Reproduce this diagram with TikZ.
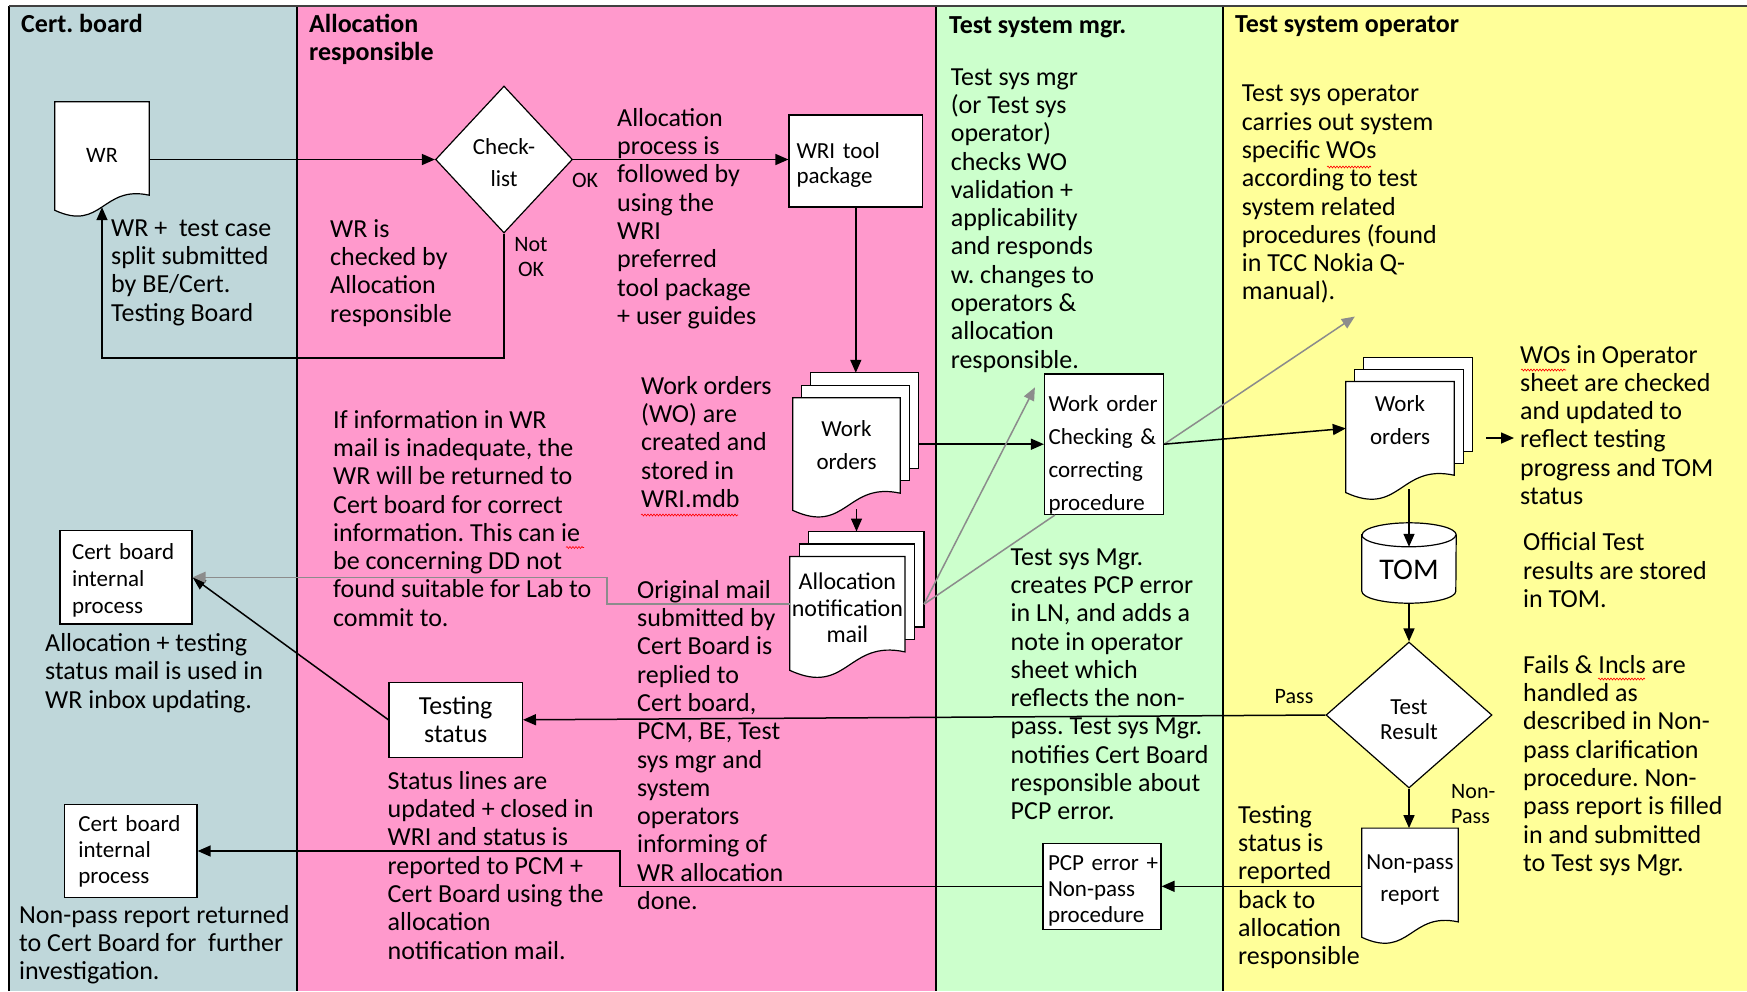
\documentclass[tikz,border=0pt]{standalone}
\usepackage{fontspec}
\setmainfont{Carlito}
\usetikzlibrary{arrows.meta,shapes.geometric,calc,decorations.pathmorphing}
\pgfdeclarelayer{lanes}
\pgfdeclarelayer{shapes}
\pgfsetlayers{lanes,shapes,main}
\definecolor{laneA}{HTML}{BFD7DA}
\definecolor{laneB}{HTML}{FF99CC}
\definecolor{laneC}{HTML}{CCFFCC}
\definecolor{laneD}{HTML}{FFFF99}
\definecolor{grayline}{HTML}{8C8C8C}
\definecolor{frameline}{HTML}{404040}
\frenchspacing

\newcommand\docout[1]{%
  \draw[shapeline] let \p1=(#1.north west), \p2=(#1.south east) in
    (\x1,\y1) -- (\x2,\y1) -- (\x2,\y2)
    .. controls ({0.5*\x1+0.5*\x2},{\y2+0.11*(\x2-\x1)}) and ({0.5*\x1+0.5*\x2},{\y2-0.39*(\x2-\x1)}) ..
    (\x1,{\y2-0.16*(\x2-\x1)}) -- cycle;}
\newcommand\pageout[3]{%
  \draw[shapeline] ([shift={(#2,#3)}]#1.north west) rectangle ([shift={(#2,#3)}]#1.south east);}

\begin{document}
\begin{tikzpicture}[x=1pt,y=-1pt,
  body/.style={anchor=north west, inner sep=0pt, align=left, yshift=-4pt,
    font=\fontsize{26}{28.3}\selectfont, execute at begin node={\rule{0pt}{21pt}}},
  hdr/.style={body, font=\bfseries\fontsize{26}{28.3}\selectfont},
  shapeline/.style={draw=black, fill=white, line width=1.2pt},
  box/.style={draw=black, fill=white, line width=1.2pt, inner sep=0pt},
  docnode/.style={inner sep=0pt, align=center, font=\fontsize{23}{33}\selectfont},
  decision/.style={diamond, draw=black, fill=white, line width=1.2pt, inner sep=0pt,
    align=center, font=\fontsize{23}{25.5}\selectfont},
  lbl/.style={inner sep=0pt, font=\fontsize{22}{25}\selectfont},
  conn/.style={draw=black, line width=1.5pt, -{Triangle[length=13pt,width=11pt]}},
  gconn/.style={draw=grayline, line width=1.5pt, -{Triangle[length=13pt,width=11pt]}},
  gline/.style={draw=grayline, line width=1.5pt},
  laneline/.style={draw=black, line width=1.5pt},
  squig/.style={draw=red, line width=0.6pt, decorate,
    decoration={snake, amplitude=1pt, segment length=3pt}}
]
\useasboundingbox (0,0) rectangle (1747,991);

% ---------- lanes ----------
\begin{pgfonlayer}{lanes}
  \fill[laneA] (9,6) rectangle (297,991);
  \fill[laneB] (297,6) rectangle (936,991);
  \fill[laneC] (936,6) rectangle (1223,991);
  \fill[laneD] (1223,6) rectangle (1747,991);
  \draw[laneline] (9,991) -- (9,6);
  \draw[laneline] (297,6) -- (297,991);
  \draw[laneline] (936,6) -- (936,991);
  \draw[laneline] (1223,6) -- (1223,991);
  \draw[draw=frameline, line width=2pt] (9,6) -- (1747,6);
\end{pgfonlayer}

% ---------- headers ----------
\node[hdr] (h1) at (21,7) {Cert. board};
\node[hdr] (h2) at (309,10) {Allocation\\responsible};
\node[hdr] (h3) at (949,8) {Test system mgr.};
\node[hdr] (h4) at (1235,7) {Test system operator};

% ---------- nodes ----------
\node[docnode, font=\fontsize{22}{25}\selectfont, minimum width=94pt, minimum height=93pt] (wr) at (102,148.5) {\rule{0pt}{27pt}WR};
\node[decision, font=\fontsize{23}{32}\selectfont, minimum width=137pt, minimum height=147pt] (check) at (504,159.5) {\rule{0pt}{22pt}Check-\\list};
\node[box, minimum width=133.6pt, minimum height=92pt, text width=118.6pt, inner xsep=7.5pt,
  align=left, font=\fontsize{23}{25}\selectfont] (wri) at (855.8,161) {\rule{0pt}{23pt}\mbox{WRI tool}\\package};
\node[docnode, minimum width=107pt, minimum height=95pt] (wo1) at (846.5,445.5) {Work\\orders};
\node[docnode, font=\fontsize{24}{26.5}\selectfont, minimum width=114.8pt, minimum height=95pt] (an) at (847.4,604.2) {\rule{0pt}{24pt}Allocation\\notification\\mail};
\node[box, minimum width=119pt, minimum height=140.5pt, text width=111pt, inner xsep=4pt,
  align=left, font=\fontsize{23}{33}\selectfont] (woc) at (1104,444.2) {\rule{0pt}{37pt}\mbox{Work order}\\\mbox{Checking \&}\\correcting\\procedure};
\node[docnode, minimum width=108pt, minimum height=93.3pt] (wo2) at (1400,428.4) {Work\\orders\rule[-16pt]{0pt}{0pt}};
\node[inner sep=0pt, font=\fontsize{30}{30}\selectfont, minimum width=94pt, minimum height=80pt] (tom) at (1409,563) {\rule{0pt}{34pt}TOM};
\node[decision, minimum width=166pt, minimum height=146pt] (tr) at (1409,715) {\rule{0pt}{24pt}Test\\Result};
\node[docnode, minimum width=96pt, minimum height=93.4pt, font=\fontsize{23}{32}\selectfont] (np) at (1410,875) {\rule{0pt}{24pt}Non-pass\\report};
\node[box, minimum width=118pt, minimum height=86pt, text width=108pt, inner xsep=5pt,
  align=left, font=\fontsize{23}{26}\selectfont] (pcp) at (1102,886.3) {\rule{0pt}{24pt}\mbox{PCP error +}\\Non-pass\\procedure};
\node[box, minimum width=133.4pt, minimum height=75pt, align=center,
  font=\fontsize{26}{28}\selectfont] (ts) at (455.7,719.8) {Testing\\status};
\node[box, minimum width=132pt, minimum height=93.3pt, text width=108pt, inner xsep=12pt,
  align=left, font=\fontsize{23}{26.7}\selectfont] (cb1) at (126,577.3) {\rule{0pt}{22pt}\mbox{Cert board}\\internal\\process};
\node[box, minimum width=132.7pt, minimum height=93.4pt, text width=104.7pt, inner xsep=14pt,
  align=left, font=\fontsize{23}{26}\selectfont] (cb2) at (130.7,851) {\mbox{Cert board}\\internal\\process};

% ---------- document / cylinder outlines ----------
\begin{pgfonlayer}{shapes}
  \docout{wr}
  \pageout{wo1}{18}{-25}
  \pageout{wo1}{9}{-12.5}
  \docout{wo1}
  \pageout{an}{19}{-25}
  \pageout{an}{9.5}{-12.5}
  \docout{an}
  \pageout{wo2}{18}{-24}
  \pageout{wo2}{9}{-12}
  \docout{wo2}
  \docout{np}
  \draw[shapeline] ([yshift=-12pt]tom.north west) -- ([yshift=12pt]tom.south west)
    arc[start angle=180, end angle=360, x radius=47pt, y radius=12pt]
    -- ([yshift=-12pt]tom.north east)
    arc[start angle=0, end angle=180, x radius=47pt, y radius=12pt] -- cycle;
  \draw[draw=black, line width=1.2pt] ([yshift=-12pt]tom.north west)
    arc[start angle=180, end angle=360, x radius=47pt, y radius=12pt];
\end{pgfonlayer}

% ---------- connector helper coordinates ----------
\coordinate (nok) at (102,358);
\coordinate (wo1top) at ([shift={(9,-25)}]wo1.north);
\coordinate (wo1r) at ([xshift=18pt]wo1.east);
\coordinate (wo1b) at ($(wo1.south)+(10,16)$);
\coordinate (antop) at ([shift={(9.5,-25)}]an.north);
\coordinate (anr) at ([xshift=19pt]an.east);
\coordinate (gtip1) at ($(woc.north west)+(-9,14)$);
\coordinate (gend1) at ($(woc.south west)+(11,0)$);
\coordinate (gtip2) at ($(wo2.north west)+(9,-65)$);
\coordinate (sa1) at (1486,438);
\coordinate (sa2) at (1514,438);
\coordinate (wo2b) at ($(wo2.south)+(9,14)$);
\coordinate (tomrim) at ($(tom.north)+(0,24)$);
\coordinate (pbend) at (620,851);
\coordinate (gbend) at (607,577.3);

% ---------- connectors ----------
\draw[conn] (wr.east |- check.west) -- (check.west);
\draw[conn] (check.east) -- (check.east -| wri.west);
\draw[conn] (check.south) |- (nok) -- ([yshift=-12pt]wr.south);
\draw[conn] (wri.south) -- (wri.south |- wo1top);
\draw[conn] (wo1r |- woc.west) -- (woc.west);
\draw[conn] (wo1b) -- (wo1b |- antop);
\draw[gconn] (anr) -- (gtip1);
\draw[gline] (anr) -- (gend1);
\draw[gconn] (woc.east) -- (gtip2);
\draw[conn] (woc.east) -- (wo2.west);
\draw[conn] (sa1) -- (sa2);
\draw[conn] (wo2b) -- (wo2b |- tomrim);
\draw[conn] (tom.south) -- (tr.north);
\draw[conn] (tr.west) -- (ts.east);
\draw[conn] (tr.south) -- (tr.south |- np.north);
\draw[conn] (np.west |- pcp.east) -- (pcp.east);
\draw[conn] (pcp.west) -| (pbend) -- (cb2.east);
\draw[conn] (ts.west) -- (cb1.east);
\draw[gconn] (an.west) -| (gbend) -- (cb1.east);

% ---------- connector labels ----------
\node[lbl] (okl) at (585,180) {OK};
\node[lbl, align=center] (notok) at (531,257) {Not\\OK};
\node[lbl] (passl) at (1294,697) {Pass};
\node[lbl, anchor=west, align=left] (nonpassl) at (1451,804) {Non-\\Pass};

% ---------- text blocks ----------
\node[body] (t1) at (111,215.3) {WR + ~test case\\split submitted\\by BE/Cert.\\Testing Board};
\node[body] (t2) at (330,215.3) {WR is\\checked by\\Allocation\\responsible};
\node[body] (t3) at (617,104) {Allocation\\process is\\followed by\\using the\\WRI\\preferred\\tool package\\+ user guides};
\node[body] (t4) at (950.6,64.3) {Test sys mgr\\(or Test sys\\operator)\\checks WO\\validation +\\applicability\\and responds\\w. changes to\\operators \&\\allocation\\responsible.};
\node[body] (t5) at (1241.6,81) {Test sys operator\\carries out system\\specific WOs\\according to test\\system related\\procedures (found\\in TCC Nokia Q-\\manual).};
\node[body] (t6) at (1520,341) {WOs in Operator\\sheet are checked\\and updated to\\reflect testing\\progress and TOM\\status};
\node[body] (t7) at (641,372) {Work orders\\(WO) are\\created and\\stored in\\WRI.mdb};
\node[body] (t8) at (333,406) {If information in WR\\mail is inadequate, the\\WR will be returned to\\Cert board for correct\\information. This can ie\\be concerning DD not\\found suitable for Lab to\\commit to.};
\node[body] (t9) at (45,629.3) {Allocation + testing\\status mail is used in\\WR inbox updating.};
\node[body] (t10) at (637,576) {Original mail\\submitted by\\Cert Board is\\replied to\\Cert board,\\PCM, BE, Test\\sys mgr and\\system\\operators\\informing of\\WR allocation\\done.};
\node[body] (t11) at (1010.5,544.3) {Test sys Mgr.\\creates PCP error\\in LN, and adds a\\note in operator\\sheet which\\reflects the non-\\pass. Test sys Mgr.\\notifies Cert Board\\responsible about\\PCP error.};
\node[body] (t12) at (1523,528.7) {Official Test\\results are stored\\in TOM.};
\node[body] (t13) at (1523,651) {Fails \& Incls are\\handled as\\described in Non-\\pass clarification\\procedure. Non-\\pass report is filled\\in and submitted\\to Test sys Mgr.};
\node[body] (t14) at (387.5,767) {Status lines are\\updated + closed in\\WRI and status is\\reported to PCM +\\Cert Board using the\\allocation\\notification mail.};
\node[body] (t15) at (19,901) {Non-pass report returned\\to Cert Board for~ further\\investigation.};
\node[body] (t16) at (1238,801) {Testing\\status is\\reported\\back to\\allocation\\responsible};

% ---------- spell-check marks ----------
\draw[squig] (1327,167) -- (1371,167);
\draw[squig] (1521,370) -- (1566,370);
\draw[squig] (641,515) -- (738,515);
\draw[squig] (566,547.5) -- (584,547.5);
\draw[squig] (1598,679) -- (1645,679);
\end{tikzpicture}
\end{document}
